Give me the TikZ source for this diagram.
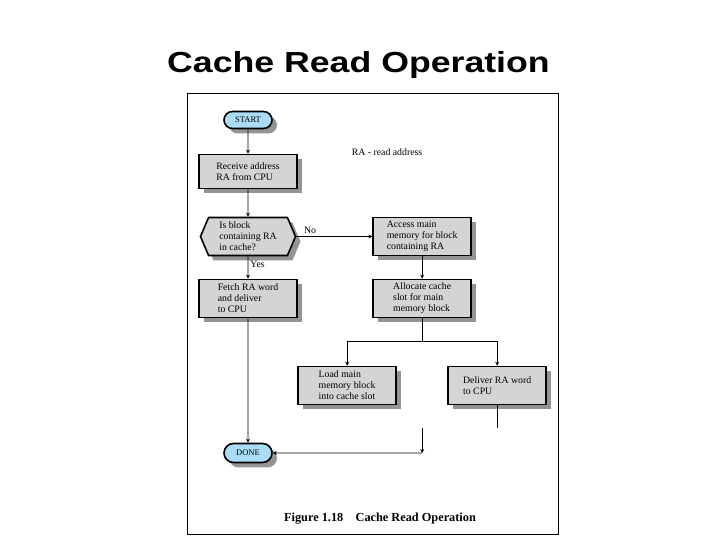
\documentclass[tikz,border=0pt]{standalone}
\usepackage{fontspec}
\setmainfont{Liberation Serif}
\newfontfamily\titlefont{Liberation Sans}
\usepackage{xcolor}
\usetikzlibrary{arrows.meta,positioning,shapes.misc,shapes.symbols,shadows}

\definecolor{boxgray}{RGB}{212,212,212}
\definecolor{termblue}{RGB}{170,220,245}

\begin{document}
\begin{tikzpicture}[x=1pt, y=1pt,
  boxshadow/.style={drop shadow={shadow xshift=5pt, shadow yshift=-5pt, fill=black!42, opacity=1}},
  box/.style={draw, line width=1.6pt, fill=boxgray, boxshadow, minimum width=98pt, minimum height=38pt, align=left, inner sep=2pt, font=\fontsize{9.8}{11}\selectfont},
  term/.style={draw, rounded rectangle, line width=1.6pt, fill=termblue, boxshadow, minimum width=50pt, minimum height=17pt, inner sep=1pt, font=\fontsize{8.5}{10}\selectfont},
  decision/.style={box, signal, signal to=east and west, signal pointer angle=134, minimum width=95pt, minimum height=38pt},
  lab/.style={font=\fontsize{9.8}{11}\selectfont, inner sep=2pt},
  arrow/.style={-{Stealth[length=4pt, width=4pt]}, line width=0.8pt},
  link/.style={line width=0.8pt},
  node distance=22.4pt]
  \useasboundingbox (0,0) rectangle (720,540);
  \node[font=\titlefont\bfseries\fontsize{29}{34}\selectfont, xscale=1.23, anchor=base] (title) at (358.5,467.5) {Cache Read Operation};
  \draw[line width=0.8pt] (187,6) rectangle (558,447);
  \node[lab, anchor=base] (note) at (387,384) {RA - read address};
  % flow chart
  \node[term] (start) at (248,420) {START};
  \node[box, below=24.4pt of start, minimum height=34pt] (recv) {Receive address\\RA from CPU};
  \node[decision, below=27.4pt of recv] (test) {Is block\\containing RA\\in cache?};
  \node[box, right=76pt of test] (access) {Access main\\memory for block\\containing RA};
  \node[box, below=of test] (fetch) {Fetch RA word\\and deliver\\to CPU};
  \node[box, below=of access] (alloc) {Allocate cache\\slot for main\\memory block};
  \node[box, below=47.4pt of alloc, xshift=-75pt] (load) {Load main\\memory block\\into cache slot};
  \node[box, below=47.4pt of alloc, xshift=75pt] (deliver) {Deliver RA word\\to CPU};
  \node[term, below=124.4pt of fetch, minimum height=19pt] (done) {DONE};
  \coordinate[below=23pt of alloc] (split);
  \coordinate[below=23pt of deliver] (stub);
  \coordinate (merge) at (split |- stub);
  \coordinate (bend) at (merge |- done);
  \draw[arrow] (start) -- (recv);
  \draw[arrow] (recv) -- (test);
  \draw[arrow] (test) -- node[lab, above, pos=0.18] {No} (access);
  \draw[arrow] (test) -- node[lab, right, pos=0.35] {Yes} (fetch);
  \draw[arrow] (access) -- (alloc);
  \draw[link] (alloc) -- (split);
  \draw[arrow] (split) -| (load);
  \draw[arrow] (split) -| (deliver);
  \draw[link] (deliver) -- (stub);
  \draw[arrow] (merge) -- (bend);
  \draw[arrow] (bend) -- (done);
  \draw[arrow] (fetch) -- (done);
  \node[font=\bfseries\fontsize{12.3}{14}\selectfont, anchor=base] (caption) at (380,18) {Figure 1.18\quad Cache Read Operation};
\end{tikzpicture}
\end{document}
